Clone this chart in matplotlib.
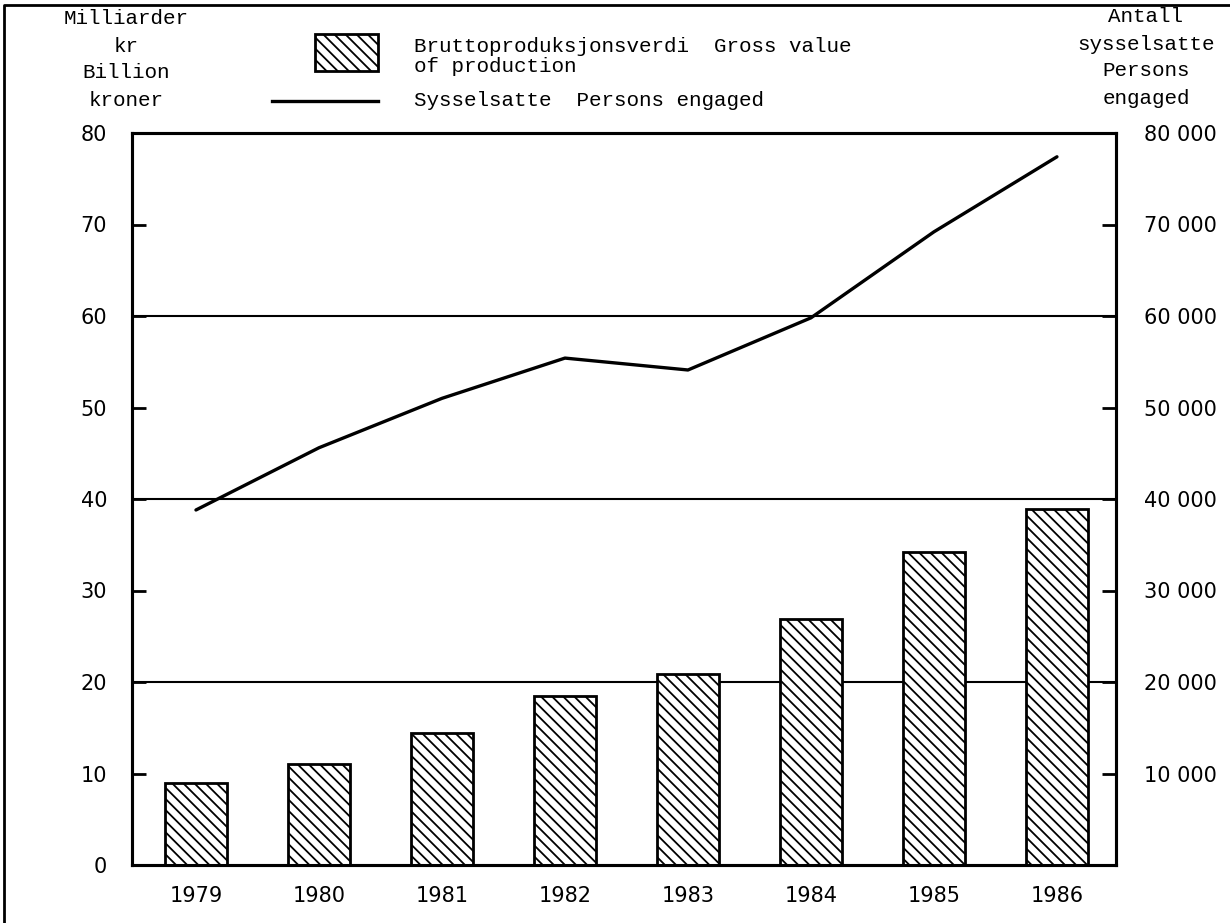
import matplotlib
matplotlib.use("Agg")
import matplotlib.pyplot as plt
from matplotlib.patches import Rectangle
from matplotlib.lines import Line2D

# Data
years = ["1979", "1980", "1981", "1982", "1983", "1984", "1985", "1986"]
gross_value = [9.0, 11.0, 14.4, 18.5, 20.9, 26.9, 34.2, 38.9]          # billion kroner
persons = [38800, 45600, 51000, 55400, 54100, 59800, 69200, 77400]     # persons engaged

left_ticks = [0, 10, 20, 30, 40, 50, 60, 70, 80]
right_ticks = [10000, 20000, 30000, 40000, 50000, 60000, 70000, 80000]

mono = "Liberation Mono"
tick_font = "DejaVu Sans"
plt.rcParams["hatch.linewidth"] = 1.3

W, H = 1230, 923
fig = plt.figure(figsize=(W / 100, H / 100), dpi=100)
fig.patch.set_facecolor("white")


def fx(px):
    return px / W


def fy(py):
    return 1 - py / H


ax = fig.add_axes([fx(132), fy(865), fx(1116) - fx(132), fy(133) - fy(865)])
x = list(range(len(years)))

# bars
ax.bar(x, gross_value, width=0.5, facecolor="white", edgecolor="black",
       linewidth=2, hatch="\\\\\\", zorder=3)

# horizontal rules at 20, 40, 60
for g in (20, 40, 60):
    ax.axhline(g, color="black", linewidth=1.5, zorder=1)

ax.set_xlim(-0.52, 7.48)
ax.set_ylim(0, 80)
ax.set_yticks(left_ticks)
ax.set_yticklabels([str(t) for t in left_ticks], fontsize=15, family=tick_font)
ax.tick_params(axis="y", direction="in", length=10, width=2, pad=18)
ax.set_xticks(x)
ax.set_xticklabels(years, fontsize=15, family=tick_font)
ax.tick_params(axis="x", length=0, pad=15)
for s in ax.spines.values():
    s.set_linewidth(2.2)

# line on the right axis
ax2 = ax.twinx()
ax2.plot(x, persons, color="black", linewidth=2.4, solid_capstyle="round", zorder=4)
ax2.set_ylim(0, 80000)
ax2.set_yticks(right_ticks)
ax2.set_yticklabels([f"{t // 1000} 000" for t in right_ticks], fontsize=15, family=tick_font)
ax2.tick_params(axis="y", direction="in", length=10, width=2, pad=20)
for s in ax2.spines.values():
    s.set_linewidth(2.2)

# axis headers
left_head = ["Milliarder", "kr", "Billion", "kroner"]
for txt, py in zip(left_head, [19, 46, 73, 100]):
    fig.text(fx(126), fy(py), txt, ha="center", va="center", fontsize=15, family=mono)

right_head = ["Antall", "sysselsatte", "Persons", "engaged"]
for txt, py in zip(right_head, [17, 44, 71, 98]):
    fig.text(fx(1146), fy(py), txt, ha="center", va="center", fontsize=15, family=mono)

# legend drawn by hand
fig.add_artist(Rectangle((fx(315), fy(71)), fx(378) - fx(315), fy(34) - fy(71),
                         transform=fig.transFigure, facecolor="white",
                         edgecolor="black", linewidth=2, hatch="\\\\\\"))
fig.add_artist(Line2D([fx(272), fx(378)], [fy(101), fy(101)],
                      transform=fig.transFigure, color="black", linewidth=2.4))
fig.text(fx(414), fy(47), "Bruttoproduksjonsverdi  Gross value", ha="left",
         va="center", fontsize=15, family=mono)
fig.text(fx(414), fy(67), "of production", ha="left", va="center",
         fontsize=15, family=mono)
fig.text(fx(414), fy(101), "Sysselsatte  Persons engaged", ha="left",
         va="center", fontsize=15, family=mono)

# page frame (left and top edges)
fig.add_artist(Line2D([fx(4), fx(4), fx(1230)], [fy(923), fy(5), fy(5)],
                      transform=fig.transFigure, color="black", linewidth=2))

fig.savefig("out.png", dpi=100)
